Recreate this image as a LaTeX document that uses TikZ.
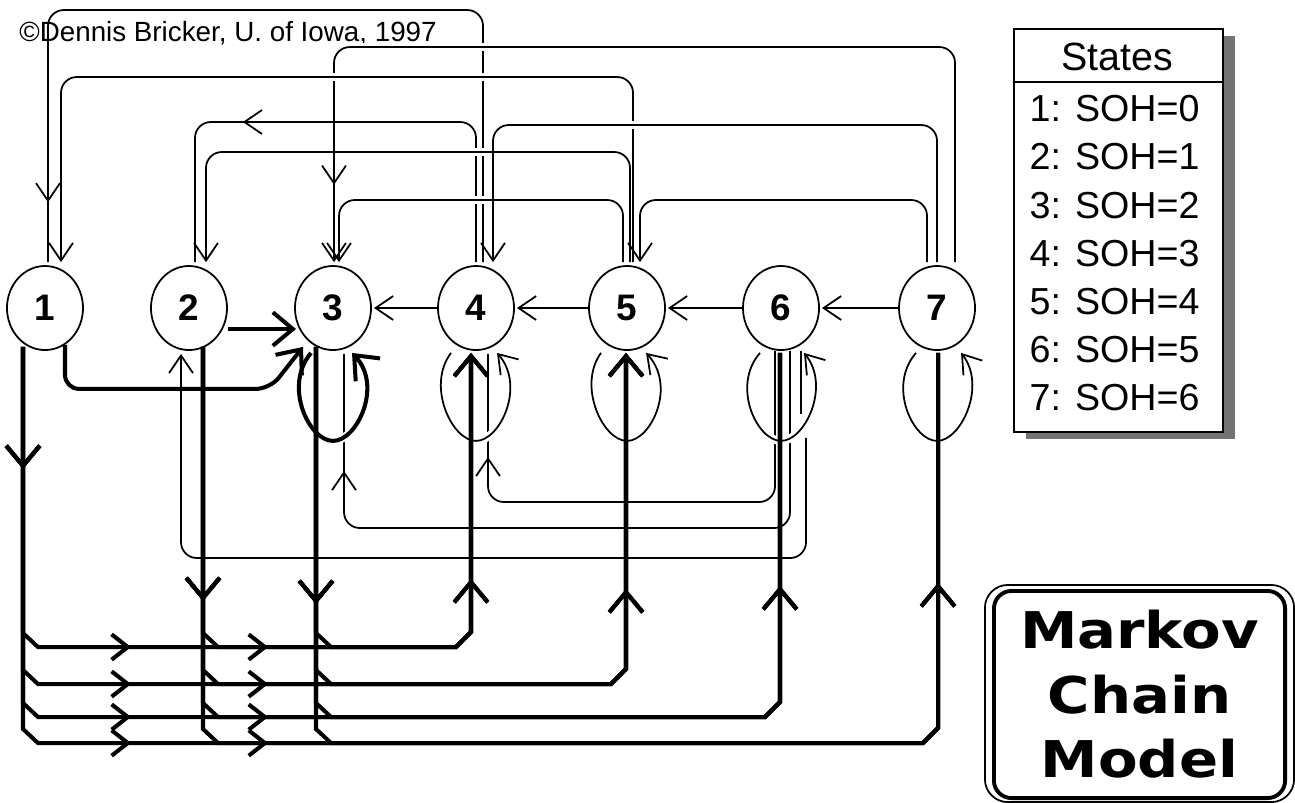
\documentclass[tikz,border=0pt]{standalone}
\usepackage{fontspec}
\setmainfont{Liberation Sans}
\newfontfamily\titlefont[FakeStretch=1.14]{DejaVu Sans}
\usetikzlibrary{arrows.meta, calc, shapes.geometric, decorations.markings}
\tikzset{
  thinbarb/.tip={Straight Barb[length=5pt, width=6.8pt]},
  boldbarb/.tip={Straight Barb[length=5.7pt, width=9.5pt]},
  busbarb/.tip={Straight Barb[length=4.6pt, width=7.2pt]},
  thinlink/.style={line width=0.5pt, rounded corners=4.5pt},
  boldlink/.style={line width=1.15pt},
  lanegap/.style={white, line width=2.3pt, shorten <=7pt, shorten >=7pt},
  endplain/.style={},
  endthin/.style={-thinbarb},
  endbold/.style={-boldbarb},
  midthin/.style={postaction={decorate, decoration={markings, mark=at position #1 with {\arrow{thinbarb}}}}},
  midbold/.style={postaction={decorate, decoration={markings, mark=at position #1 with {\arrow{boldbarb}}}}},
  midbus/.style={postaction={decorate, decoration={markings, mark=at position #1 with {\arrow{busbarb}}}}},
  loopthin/.style={line width=0.5pt, -thinbarb, preaction={draw, white, line width=2.3pt}},
  loopbold/.style={boldlink, -boldbarb, preaction={draw, white, line width=2.3pt}},
  statenode/.style={ellipse, draw, line width=0.5pt, minimum width=0.76cm, minimum height=0.84cm,
    inner sep=0pt, font=\fontsize{10.5}{12}\selectfont\bfseries},
  staterow/.style={anchor=west, inner sep=0pt, font=\fontsize{10.7}{13}\selectfont},
}
\begin{document}
\begin{tikzpicture}[x=0.01cm, y=-0.01cm]
  \useasboundingbox (0,0) rectangle (1295,802);

  \node[inner sep=0pt, font=\fontsize{7.9}{9}\selectfont] (credit) at (228,33) {©Dennis Bricker, U. of Iowa, 1997};

  \foreach \i/\cx in {1/45, 2/189, 3/333, 4/476, 5/627, 6/781, 7/937} {
    \node[statenode] (s\i) at (\cx,308) {\i};
  }

  \foreach \nfrom/\ofrom/\nto/\oto/\lane/\mpos/\etip in {
    4/7/1/3/10/-17pt/endplain,
    4/0/2/6/122/-51.5pt/endplain,
    5/3/2/17/152/2000pt/endthin,
    5/-4/3/6/200/2000pt/endthin,
    7/18/3/1/47/-22pt/endthin,
    5/6/1/16/77/2000pt/endthin,
    7/0/4/17/125/2000pt/endthin,
    7/-10/5/13/200/2000pt/endthin}{
    \coordinate (linkup) at ($(s\nfrom.north)+(\ofrom,-3)$);
    \coordinate (linkdn) at ($(s\nto.north)+(\oto,-3)$);
    \draw[lanegap] (linkup |- 0,\lane) -- (linkdn |- 0,\lane);
    \draw[thinlink, \etip, midthin=\mpos] (linkup) -- (linkup |- 0,\lane) -- (linkdn |- 0,\lane) -- (linkdn);
  }

  \foreach \i/\j in {4/3, 5/4, 6/5, 7/6} {
    \draw[line width=0.5pt, -thinbarb, shorten >=0.6pt] (s\i.west) -- (s\j.east);
  }

  \foreach \ofrom/\dfrom/\nto/\oto/\lane/\mpos/\etip in {
    -6/0/4/12/502/-29.3pt/endplain,
    9/0/3/11/528/-33.3pt/endplain,
    25/87/2/-8/558/2000pt/endthin}{
    \coordinate (linkdn) at ($(s6.south)+(\ofrom,\dfrom)$);
    \coordinate (linkup) at ($(s\nto.south)+(\oto,3)$);
    \draw[thinlink, \etip, midthin=\mpos] (linkdn) -- (linkdn |- 0,\lane) -- (linkup |- 0,\lane) -- (linkup);
  }
  \draw[thinlink] ($(s6.south)+(20,0)$) -- ($(s6.south)+(20,63)$);

  \foreach \i/\oleft/\oright/\lstyle in {3/-22/19/loopbold, 4/-25/21/loopthin, 5/-26/19/loopthin, 6/-21/23/loopthin, 7/-21/24/loopthin} {
    \draw[\lstyle] ($(s\i.south)+(\oleft,2)$) .. controls ($(s\i.south)+(-50,35)$) and ($(s\i.south)+(-24,90)$) .. ($(s\i.south)+(0,90)$)
      .. controls ($(s\i.south)+(24,90)$) and ($(s\i.south)+(50,35)$) .. ($(s\i.south)+(\oright,2)$);
  }

  \foreach \nsrc/\osrc/\ydown in {1/-22/468, 2/14/600, 3/-17/603} {
    \foreach \nto/\oto/\lane/\yup/\etip in {4/-5/647/578/endbold, 5/-1/684/588/endbold, 6/-1/717/585/endplain, 7/1/743/582/endplain} {
      \coordinate (busa) at ($(s\nsrc.south)+(\osrc,-4)$);
      \coordinate (busb) at ($(s\nto.south)+(\oto,2)$);
      \pgfmathsetmacro\posdown{(\ydown-346)*0.2845}
      \pgfmathsetmacro\posup{-(\yup-352)*0.2845}
      \pgfmathsetmacro\posa{\nsrc==1 ? (\lane-360+20.5+130-23-15)*0.2845 : 2000}
      \pgfmathsetmacro\posb{\nsrc==1 ? (\lane-360+20.5+267-23-15)*0.2845 : 2000}
      \draw[boldlink, \etip, midbold=\posdown pt, midbold=\posup pt, midbus=\posa pt, midbus=\posb pt]
        (busa) -- ($(busa |- 0,\lane)+(0,-14)$) -- ($(busa |- 0,\lane)+(15,0)$)
        -- ($(busb |- 0,\lane)+(-15,0)$) -- ($(busb |- 0,\lane)+(0,-15)$) -- (busb);
    }
  }

  \draw[boldlink, -boldbarb, shorten >=0.3pt] ($(s2.east)+(0,21)$) -- ($(s3.west)+(3,21)$);
  \draw[boldlink, -boldbarb, rounded corners=4pt] ($(s1.south)+(20,-6)$) -- ($(s1.south)+(20,38)$)
    -- ($(s3.south)+(-63,38)$) -- ($(s3.south)+(-30,-4)$);

  \node[fill=black!55, minimum width=2.09cm, minimum height=4.03cm, inner sep=0pt] (statesshadow) at (1130.5,237.5) {};
  \node[draw, fill=white, line width=0.6pt, minimum width=2.09cm, minimum height=4.03cm, inner sep=0pt] (statesbox) at (1118.5,230.5) {};
  \draw[line width=0.6pt] (statesbox.west |- 0,82) -- (statesbox.east |- 0,82);
  \node[inner sep=0pt, font=\fontsize{11.2}{13}\selectfont] (stateshead) at (1117,57) {States};
  \foreach \i/\soh/\yrow in {1/0/109, 2/1/157, 3/2/206, 4/3/254, 5/4/302, 6/5/350, 7/6/398} {
    \node[staterow] (row\i) at (1029,\yrow) {\i: SOH=\soh};
  }

  \node[draw, line width=0.5pt, rounded corners=6.5pt, minimum width=3.09cm, minimum height=2.17cm, inner sep=0pt] (modelframe) at (1139.5,693.5) {};
  \node[draw, line width=1.1pt, rounded corners=5pt, minimum width=2.91cm, minimum height=2.07cm, inner sep=0pt, align=center,
        font=\titlefont\fontsize{14.4}{18.35}\selectfont\bfseries] (modeltitle) at (1139.5,694.5) {Markov\\Chain\\Model};
\end{tikzpicture}
\end{document}
